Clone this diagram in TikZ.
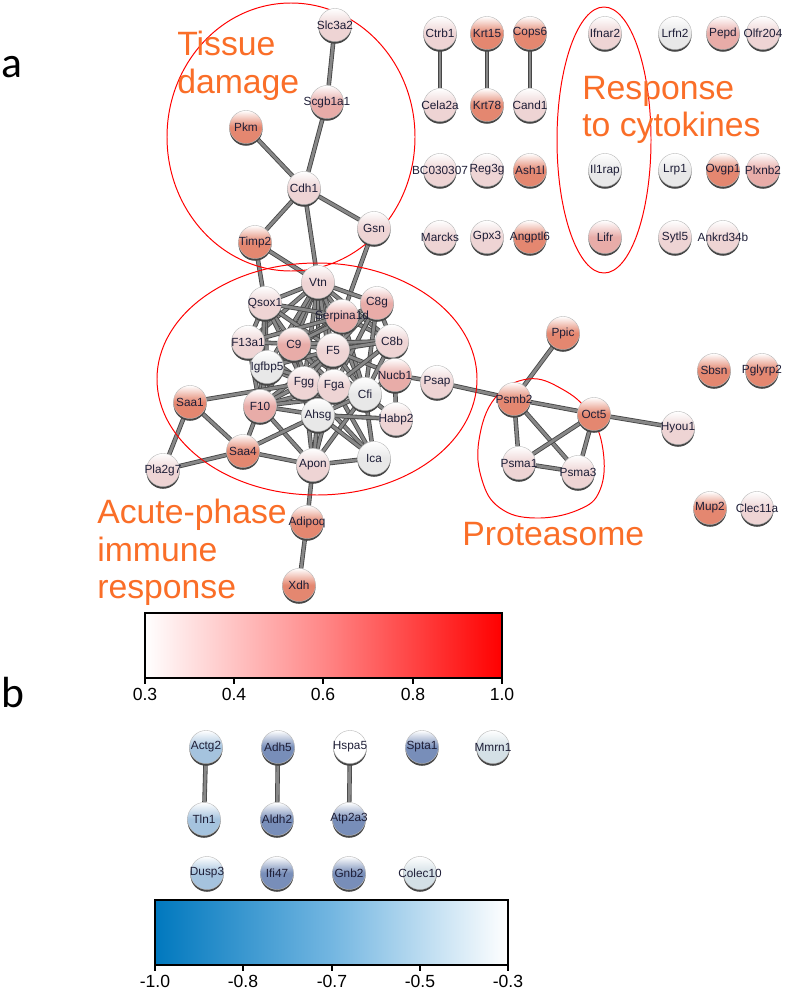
\documentclass[tikz,border=0pt]{standalone}
\usepackage{fontspec}
\setmainfont{Liberation Sans}
\newfontfamily\panelfont{Carlito}
\usepackage{tikz}
\usetikzlibrary{shadows}
\usetikzlibrary{backgrounds}
\definecolor{redhi}{RGB}{228,135,112}
\definecolor{redmid}{RGB}{232,172,168}
\definecolor{redlow}{RGB}{238,212,212}
\definecolor{neutral}{RGB}{232,232,232}
\definecolor{bluehi}{RGB}{120,142,185}
\definecolor{bluemid}{RGB}{165,195,222}
\definecolor{bluelow}{RGB}{212,224,230}
\definecolor{labelorange}{RGB}{250,110,40}
\definecolor{genetext}{RGB}{30,30,55}
\definecolor{linkedge}{RGB}{70,70,70}
\definecolor{linkfill}{RGB}{135,135,135}
\tikzset{
  gene/.style={circle, inner sep=0pt, minimum size=23.5pt, draw=gray!55, line width=0.3pt,
    top color=white, bottom color=#1, middle color=#1, text=genetext,
    font=\fontsize{8.4}{9}\selectfont,
    general shadow={fill=gray!55!black, shadow yshift=-1.6pt}},
  link/.style={draw=linkedge, double=linkfill, double distance=2pt, line width=0.6pt},
  group/.style={draw=red, line width=0.7pt},
  grouptext/.style={text=labelorange, align=left, anchor=north west, inner sep=0pt,
    font=\fontsize{24}{26.5}\selectfont},
  ticklabel/.style={font=\fontsize{12.5}{14}\selectfont, inner sep=0pt},
  panel/.style={font=\panelfont\fontsize{31}{33}\selectfont, inner sep=0pt, anchor=base west}
}
\begin{document}
\begin{tikzpicture}[x=0.025cm, y=-0.025cm]
  \useasboundingbox (0,0) rectangle (788,992);
  % panel a
  \node[panel] (pa) at (1,78) {a};
  \foreach \g/\x/\y/\c in {Slc3a2/335/25/redlow, Scgb1a1/327/102/redmid, Pkm/246/127/redhi,
      Cdh1/304/188/redlow, Gsn/374/228/redlow, Timp2/255/242/redhi,
      Ctrb1/440/33/redlow, Krt15/487/33/redhi, Cops6/530/33/redhi, Ifnar2/605/33/redlow,
      Lrfn2/675/33/neutral, Pepd/723/33/redmid, Olfr204/763/33/redlow,
      Cela2a/440/105/redlow, Krt78/487/105/redhi, Cand1/530/105/redlow,
      BC030307/440/170/redlow, Reg3g/487/170/redlow, Ash1l/530/170/redhi, Il1rap/605/170/neutral,
      Lrp1/675/170/neutral, Ovgp1/723/170/redhi, Plxnb2/763/170/redmid,
      Marcks/440/237/redlow, Gpx3/487/237/redlow, Angptl6/530/237/redhi, Lifr/605/237/redmid,
      Sytl5/675/237/redlow, Ankrd34b/723/237/redlow,
      Vtn/318/282/redlow, Qsox1/265/303/redlow, C8g/377/303/redmid, Serpina1d/342/316/redmid,
      F13a1/248/342/redlow, C9/294/344/redmid, F5/333/350/redlow, C8b/392/341/redlow,
      Igfbp5/267/367/neutral, Nucb1/395/375/redmid, Psap/437/382/redlow,
      Fgg/304/383/redlow, Fga/334/386/redlow, Cfi/365/394/neutral, Saa1/190/402/redhi,
      F10/260/406/redmid, Ahsg/318/415/neutral, Habp2/396/419/redlow, Saa4/243/451/redhi,
      Ica/374/458/neutral, Apon/313/465/redlow, Pla2g7/163/470/redlow,
      Adipoq/307/522/redhi, Xdh/299/585/redhi,
      Ppic/563/333/redhi, Sbsn/714/370/redhi, Pglyrp2/762/370/redhi,
      Psmb2/514/399/redhi, Oct5/594/414/redhi, Hyou1/678/428/redlow,
      Psma1/519/463/redlow, Psma3/578/472/redlow, Mup2/710/508/redhi, Clec11a/757/508/redlow}
    \node[gene=\c] (\g) at (\x,\y) {\makebox[0pt]{\g}};
  \begin{scope}[on background layer]
    \foreach \a/\b in {Slc3a2/Scgb1a1, Scgb1a1/Cdh1, Pkm/Cdh1, Cdh1/Gsn, Cdh1/Timp2, Cdh1/Vtn,
        Timp2/Vtn, Timp2/Qsox1, Gsn/Serpina1d, Vtn/C8g,
        Ctrb1/Cela2a, Krt15/Krt78, Cops6/Cand1,
        Vtn/Qsox1, Vtn/Serpina1d, Vtn/C9, Vtn/F5, Vtn/Fgg, Vtn/Fga, Vtn/Cfi, Vtn/F10, Vtn/Igfbp5,
        Vtn/C8b, Vtn/Ahsg, Vtn/F13a1,
        Qsox1/Serpina1d, Qsox1/C9, Qsox1/F5, Qsox1/Igfbp5, Qsox1/F13a1, Qsox1/Fgg, Qsox1/F10,
        Serpina1d/C9, Serpina1d/F5, Serpina1d/C8b, Serpina1d/Cfi, Serpina1d/Fga, Serpina1d/F13a1,
        Serpina1d/Igfbp5,
        C8g/C8b, C8g/F5, C8g/Cfi, C8g/C9, C8g/Fga,
        F13a1/C9, F13a1/Igfbp5, F13a1/F10, F13a1/Fgg,
        C9/F5, C9/C8b, C9/Fgg, C9/Fga, C9/Cfi, C9/F10, C9/Igfbp5, C9/Ahsg,
        F5/C8b, F5/Fgg, F5/Fga, F5/Cfi, F5/F10, F5/Ahsg, F5/Igfbp5, F5/Nucb1,
        C8b/Cfi, C8b/Nucb1, C8b/Fga,
        Igfbp5/Fgg, Igfbp5/F10, Igfbp5/Fga, Igfbp5/Cfi,
        Fgg/Fga, Fgg/Cfi, Fgg/F10, Fgg/Ahsg, Fgg/Ica, Fgg/Apon,
        Fga/Cfi, Fga/F10, Fga/Ahsg, Fga/Ica, Fga/Apon,
        Cfi/F10, Cfi/Ahsg, Cfi/Ica, Cfi/Apon, Cfi/Habp2, Cfi/Nucb1,
        F10/Ahsg, F10/Apon, Ahsg/Ica, Ahsg/Apon, Ahsg/Habp2,
        Nucb1/Psap, Psap/Psmb2, Nucb1/Habp2,
        Saa1/Fgg, Saa1/Saa4, Saa1/Pla2g7, Pla2g7/Saa4, Saa4/F10, Saa4/Apon, Saa4/Ahsg,
        Apon/Ica, Apon/Adipoq, Adipoq/Xdh,
        Psmb2/Ppic, Psmb2/Oct5, Psmb2/Psma1, Psmb2/Psma3, Oct5/Psma1, Oct5/Psma3,
        Psma1/Psma3, Oct5/Hyou1}
      \draw[link] (\a) -- (\b);
    % functional groups
    \draw[group] (291,137) ellipse [x radius=124, y radius=134];
    \draw[group] (604,140) ellipse [x radius=47, y radius=133];
    \draw[group] (317,379) ellipse [x radius=160, y radius=116];
    \draw[group] plot[smooth cycle, tension=0.7] coordinates {(528,379) (562,389) (589,413)
      (603,450) (600,490) (578,510) (535,518) (500,508) (482,480) (479,440) (495,398)};
  \end{scope}
  \node[grouptext] (tissue) at (177,31) {Tissue\\damage};
  \node[grouptext] (cytokines) at (582,76) {Response\\to cytokines};
  \node[grouptext] (acute) at (97,499) {Acute-phase\\immune\\response};
  \node[grouptext] (proteasome) at (462,522) {Proteasome};
  % colour scale a
  \shade[left color=white, right color=red, middle color={rgb,255:red,255;green,135;blue,135}]
    (145,613) rectangle (502,678);
  \draw[line width=2pt] (145,613) rectangle (502,678);
  \foreach \x/\t in {145/0.3, 234/0.4, 323/0.6, 413/0.8, 502/1.0} {
    \draw[line width=2pt] (\x,678) -- (\x,684);
    \node[ticklabel] (ra\x) at (\x,694) {\t};
  }
  % panel b
  \node[panel] (pb) at (1,707) {b};
  \foreach \g/\x/\y/\c in {Actg2/206/747/bluemid, Adh5/278/747/bluehi, Hspa5/350/747/white,
      Spta1/422/747/bluehi, Mmrn1/493/747/bluelow,
      Tln1/204/819/bluemid, Aldh2/277/819/bluehi, Atp2a3/349/819/bluehi,
      Dusp3/207/873/bluemid, Ifi47/277/873/bluehi, Gnb2/349/873/bluehi, Colec10/420/873/bluelow}
    \node[gene=\c] (\g) at (\x,\y) {\makebox[0pt]{\g}};
  \begin{scope}[on background layer]
    \draw[link] (Actg2) -- (Tln1);
    \draw[link] (Adh5) -- (Aldh2);
    \draw[link] (Hspa5) -- (Atp2a3);
  \end{scope}
  % colour scale b
  \shade[left color={rgb,255:red,0;green,120;blue,190}, right color=white,
    middle color={rgb,255:red,115;green,182;blue,225}] (155,900) rectangle (508,965);
  \draw[line width=2pt] (155,900) rectangle (508,965);
  \foreach \x/\t in {155/-1.0, 243/-0.8, 332/-0.7, 420/-0.5, 508/-0.3} {
    \draw[line width=2pt] (\x,965) -- (\x,971);
    \node[ticklabel] (rb\x) at (\x,981) {\t};
  }
\end{tikzpicture}
\end{document}
